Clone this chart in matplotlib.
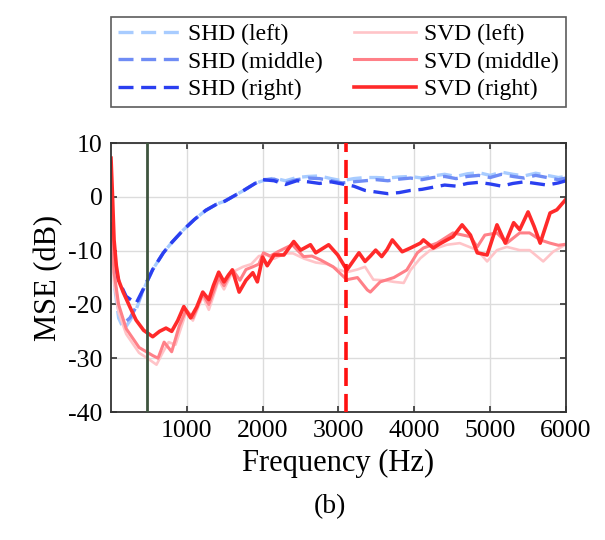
import matplotlib
matplotlib.use("Agg")
import matplotlib.pyplot as plt

plt.rcParams['font.family'] = ['Liberation Serif', 'DejaVu Serif']
plt.rcParams['axes.unicode_minus'] = False

# ---- data ----
shd_r_f = [50, 100, 200, 330, 420, 550, 690, 800, 950, 1100, 1250, 1400, 1500, 1600, 1750, 1900, 2000,
           2150, 2300, 2450, 2600, 2750, 2900, 3050, 3200, 3350, 3500, 3650, 3800, 3950, 4100, 4250,
           4400, 4550, 4700, 4850, 5000, 5150, 5300, 5450, 5600, 5750, 5900, 6000]
shd_r_db = [-13, -15.5, -18.5, -19.8, -17.3, -13.5, -10.4, -8.5, -6.2, -4.2, -2.5, -1.3, -0.8, 0, 1.2, 2.5, 3.2,
            3.0, 2.3, 3.0, 2.8, 2.5, 2.8, 2.4, 2.0, 1.2, 0.9, 0.6, 0.8, 1.2, 1.4, 1.8,
            2.2, 2.0, 2.5, 2.7, 2.4, 2.0, 2.5, 2.8, 2.5, 2.2, 2.6, 3.0]

shd_m_f = [50, 100, 170, 250, 330, 420, 550, 690, 800, 950, 1100, 1250, 1400, 1500, 1600, 1750, 1900, 2000,
           2150, 2300, 2450, 2600, 2750, 2900, 3050, 3200, 3350, 3500, 3650, 3800, 3950, 4100, 4250,
           4400, 4550, 4700, 4850, 5000, 5150, 5300, 5450, 5600, 5750, 5900, 6000]
shd_m_db = [-16, -21, -23.5, -22.5, -20.5, -17.4, -13.5, -10.4, -8.5, -6.2, -4.2, -2.5, -1.3, -0.8, 0, 1.2, 2.5, 3.2,
            3.3, 2.6, 3.2, 3.5, 3.4, 3.0, 2.6, 2.8, 3.0, 3.2, 3.0, 3.3, 3.5, 3.2, 3.6,
            3.8, 3.4, 3.8, 4.0, 3.6, 4.2, 3.8, 3.5, 4.0, 3.6, 3.2, 3.5]

shd_l_f = [50, 100, 170, 250, 330, 420, 550, 690, 800, 950, 1100, 1250, 1400, 1500, 1600, 1750, 1900, 2000,
           2150, 2300, 2450, 2600, 2750, 2900, 3050, 3200, 3350, 3500, 3650, 3800, 3950, 4100, 4250,
           4400, 4550, 4700, 4850, 5000, 5150, 5300, 5450, 5600, 5750, 5900, 6000]
shd_l_db = [-17, -22.5, -24.7, -23, -21, -17.5, -13.5, -10.4, -8.5, -6.2, -4.2, -2.5, -1.3, -0.8, 0, 1.2, 2.5, 3.0,
            3.5, 3.0, 3.6, 3.8, 3.9, 3.4, 3.0, 3.4, 3.6, 3.6, 3.5, 3.7, 3.8, 3.5, 3.9,
            4.2, 3.8, 4.3, 4.5, 4.0, 4.6, 4.2, 3.9, 4.4, 4.0, 3.6, 3.8]

svd_r_f = [0, 20, 40, 70, 100, 160, 250, 330, 430, 550, 640, 725, 800, 880, 960, 1050, 1130, 1210, 1290,
           1350, 1420, 1490, 1550, 1600, 1690, 1780, 1870, 1930, 2000, 2060, 2150, 2280, 2410, 2500,
           2630, 2700, 2870, 2990, 3110, 3190, 3270, 3350, 3420, 3490, 3570, 3640, 3710, 3840, 3950,
           4080, 4120, 4250, 4340, 4430, 4510, 4630, 4740, 4830, 4960, 5090, 5200, 5310, 5390, 5500,
           5580, 5660, 5790, 5880, 5990]
svd_r_db = [7.2, 0, -8, -12.8, -15.5, -17.7, -20.5, -22.9, -24.8, -26, -25, -24.4, -25, -23, -20.4, -22.5,
            -20.5, -17.7, -19.1, -16.5, -14, -15.8, -14.5, -13.6, -17.7, -15.5, -14.1, -15.8, -11.2, -12.8,
            -10.8, -10.8, -8.3, -9.9, -8.9, -10.4, -8.9, -10.8, -13.6, -12.0, -10.4, -12, -11.0, -9.9,
            -11.1, -9.8, -8, -10.2, -9.5, -8.6, -8, -9.5, -8.7, -8, -7.4, -5.2, -7.1, -10.4, -10.8, -5.2,
            -8.6, -4.8, -6.1, -2.8, -5.5, -8.6, -3, -2.4, -0.6]

svd_m_f = [0, 40, 100, 200, 370, 550, 620, 700, 800, 900, 990, 1080, 1210, 1290, 1420, 1490, 1600, 1700,
           1780, 1870, 1950, 2010, 2100, 2200, 2300, 2390, 2540, 2650, 2760, 2930, 3110, 3250, 3380,
           3420, 3550, 3730, 3900, 4040, 4120, 4300, 4510, 4740, 4830, 4930, 5090, 5220, 5390, 5520,
           5660, 5790, 5900, 6000]
svd_m_db = [-5, -14, -20, -24.5, -28, -29.5, -30, -27, -28.8, -24, -21, -22.5, -18, -20, -15, -16.5, -13.5,
            -15.5, -13.5, -13, -12.5, -10.4, -11, -10.2, -9.5, -8.9, -11.1, -11.0, -11.7, -13, -15.4, -15,
            -17.3, -17.7, -15.8, -15, -13.6, -10.4, -9.5, -8.6, -6.7, -7.4, -9.3, -7.1, -6.7, -8.6, -6.7,
            -6.7, -8.0, -8.6, -9.0, -8.8]

svd_l_f = [0, 40, 100, 200, 370, 480, 560, 600, 680, 760, 850, 990, 1080, 1210, 1290, 1420, 1490, 1600,
           1740, 1850, 1950, 2050, 2150, 2300, 2400, 2550, 2700, 2850, 3000, 3110, 3250, 3350, 3460,
           3600, 3730, 3860, 3950, 4080, 4210, 4430, 4600, 4830, 4960, 5090, 5220, 5390, 5520, 5700,
           5830, 5990]
svd_l_db = [-8, -16, -21.5, -25.5, -29, -30, -30.8, -31.2, -29, -27, -27.5, -21.5, -23, -18.5, -21, -15.5,
            -17.2, -14, -13, -12.5, -11, -10.8, -11.5, -10.5, -10.5, -11.5, -12.2, -12.5, -13.5, -14,
            -13.5, -13, -15.4, -15.5, -15.8, -16, -13.6, -11.4, -9.9, -8.9, -8.6, -9.9, -12, -9.9, -9.3,
            -9.9, -9.9, -12, -10.2, -8.9]

green_line_f = 470
red_line_f = 3100
x_ticks = [1000, 2000, 3000, 4000, 5000, 6000]
y_ticks = [10, 0, -10, -20, -30, -40]

# ---- figure ----
fig = plt.figure(figsize=(6.05, 5.4), dpi=100)
ax = fig.add_axes([0.1835, 0.237, 0.752, 0.498])

dash = (0, (4.5, 2.3))
l1, = ax.plot(shd_l_f, shd_l_db, color='#a8ccff', lw=2.4, linestyle=dash, label='SHD (left)')
l2, = ax.plot(shd_m_f, shd_m_db, color='#6f8cf5', lw=2.4, linestyle=dash, label='SHD (middle)')
l3, = ax.plot(shd_r_f, shd_r_db, color='#2a3ff0', lw=2.4, linestyle=dash, label='SHD (right)')
l4, = ax.plot(svd_l_f, svd_l_db, color='#ffc4c8', lw=1.9, label='SVD (left)')
l5, = ax.plot(svd_m_f, svd_m_db, color='#ff8088', lw=2.2, label='SVD (middle)')
l6, = ax.plot(svd_r_f, svd_r_db, color='#ff2a2a', lw=2.6, label='SVD (right)')

ax.axvline(green_line_f, color='#3f553f', lw=2.0, zorder=5)
ax.axvline(red_line_f, color='#ff1010', lw=2.6, linestyle=(0, (5, 2.2)), zorder=5)

ax.set_xlim(0, 6000)
ax.set_ylim(-40, 10)
ax.set_xticks(x_ticks)
ax.set_yticks(y_ticks)
ax.grid(True, color='#dcdcdc', lw=1.0)
ax.set_axisbelow(True)
ax.tick_params(direction='in', top=True, right=True, length=4, width=1.2, labelsize=18.5,
               color='#333333', pad=6)
for s in ax.spines.values():
    s.set_color('#333333')
    s.set_linewidth(1.3)

ax.set_xlabel('Frequency (Hz)', fontsize=22, labelpad=5)
ax.set_ylabel('MSE (dB)', fontsize=22, labelpad=4)

leg = ax.legend(handles=[l1, l2, l3, l4, l5, l6], ncol=2, loc='lower left',
                bbox_to_anchor=(0.0, 1.134, 1.0, 0.353), mode='expand', borderaxespad=0,
                fontsize=17, handlelength=2.6, handletextpad=0.35, columnspacing=0.3,
                frameon=True, fancybox=False, edgecolor='#333333', labelspacing=0.25,
                borderpad=0.3)
leg.get_frame().set_linewidth(1.2)

fig.text(0.545, 0.062, '(b)', ha='center', va='center', fontsize=20)

fig.savefig('out.png', dpi=100)
